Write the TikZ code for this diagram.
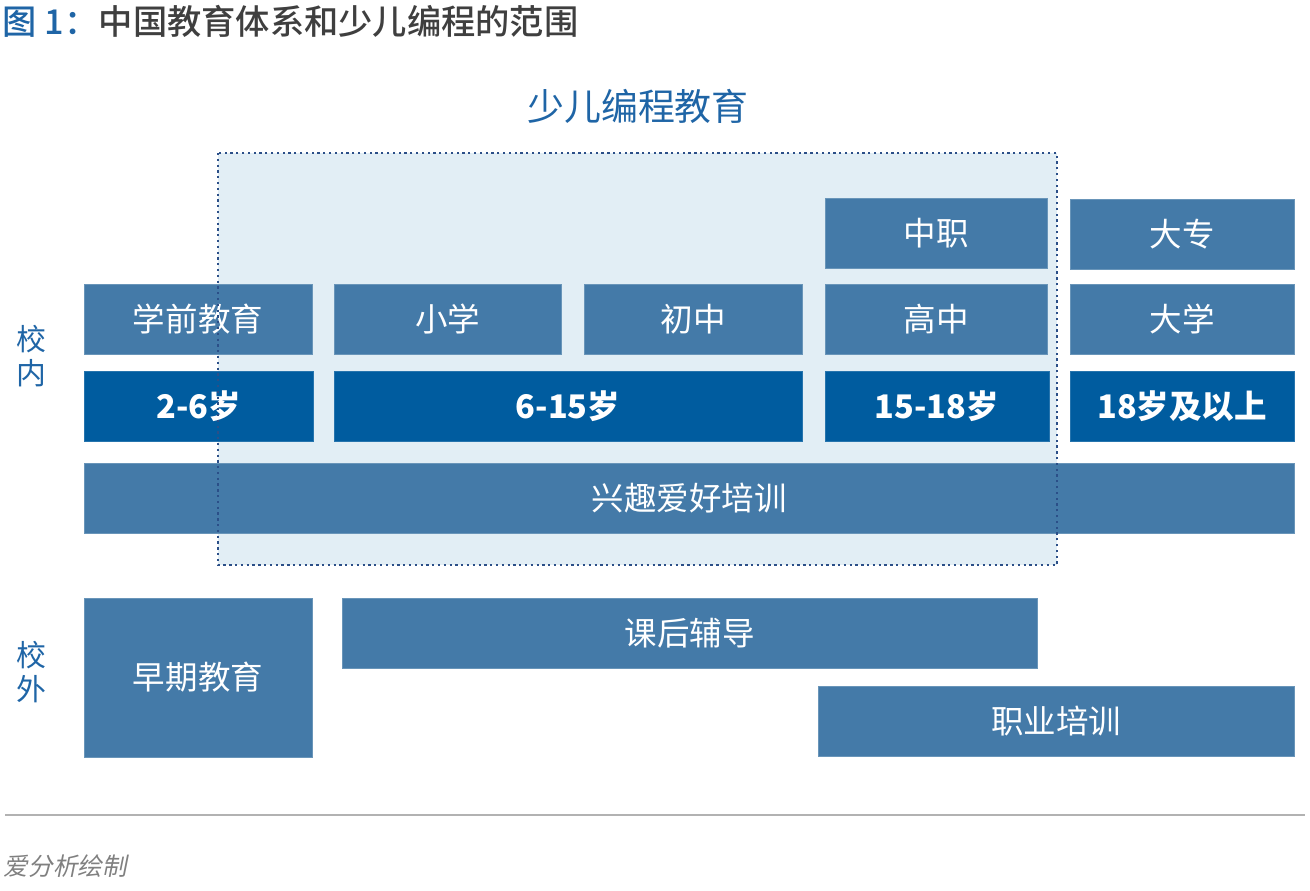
\documentclass[tikz,border=0pt]{standalone}
\usepackage{fontspec}
\setmainfont{Noto Sans CJK SC}
\newfontfamily\titlefont{Noto Sans CJK SC Medium}
\newfontfamily\notefont[FakeSlant=0.2]{Noto Sans CJK SC}
\usepackage{tikz}
\usetikzlibrary{calc, shapes, positioning}
\definecolor{boxblue}{HTML}{447AA8}
\definecolor{ageblue}{HTML}{005C9F}
\definecolor{zoneblue}{HTML}{E2EEF5}
\definecolor{dotblue}{HTML}{2B4F88}
\definecolor{textblue}{HTML}{1F65A6}
\definecolor{titlegray}{HTML}{3F3F3F}

\begin{document}
\begin{tikzpicture}[x=0.02cm,y=-0.02cm,auto,semithick,
        every node/.style={inner sep=0pt,outer sep=0pt}]
        \tikzstyle{stage}=[rectangle,fill=boxblue,draw=boxblue!80!white,thin,text=white,minimum height=1.4cm,font=\fontsize{18.5pt}{22pt}\selectfont]
        \tikzstyle{age}=[stage,fill=ageblue,draw=ageblue!85!white,font=\fontsize{18.5pt}{22pt}\selectfont\bfseries]
        \tikzstyle{side}=[text=textblue,align=center,font=\fontsize{17pt}{19.5pt}\selectfont]
        \useasboundingbox (0,0) rectangle (1310,890);
        % title
        \node[anchor=west,text=titlegray,font=\titlefont\fontsize{19.5pt}{22pt}\selectfont](title) at (3,21){{\color{textblue}图 1：}中国教育体系和少儿编程的范围};
        % coding zone
        \fill[zoneblue] (218,153) rectangle (1057,565);
        \node[text=textblue,font=\fontsize{21pt}{24pt}\selectfont](zone) at (638,106){少儿编程教育};
        % in school
        \node[stage,minimum width=4.44cm](zhongzhi) at (936,233){\raisebox{-1.5pt}{中职}};
        \node[stage,minimum width=4.48cm](dazhuan) at (1182,234){\raisebox{-1.5pt}{大专}};
        \node[stage,minimum width=4.56cm](xueqian) at (198,319){\raisebox{-1.5pt}{学前教育}};
        \node[stage,minimum width=4.54cm](xiaoxue) at (447.5,319){\raisebox{-1.5pt}{小学}};
        \node[stage,minimum width=4.36cm](chuzhong) at (693,319){\raisebox{-1.5pt}{初中}};
        \node[stage,minimum width=4.44cm](gaozhong) at (936,319){\raisebox{-1.5pt}{高中}};
        \node[stage,minimum width=4.48cm](daxue) at (1182,319){\raisebox{-1.5pt}{大学}};
        \node[age,minimum width=4.58cm](ageA) at (198.5,406){\raisebox{-1.5pt}{2-6岁}};
        \node[age,minimum width=9.36cm](ageB) at (568,406){\raisebox{-1.5pt}{6-15岁}};
        \node[age,minimum width=4.48cm](ageC) at (937,406){\raisebox{-1.5pt}{15-18岁}};
        \node[age,minimum width=4.48cm](ageD) at (1182,406){\raisebox{-1.5pt}{18岁及以上}};
        \node[stage,minimum width=24.2cm](xingqu) at (689,498){\raisebox{-1.5pt}{兴趣爱好培训}};
        % out of school
        \node[stage,minimum width=4.56cm,minimum height=3.18cm](zaoqi) at (198,677.5){\raisebox{-1.5pt}{早期教育}};
        \node[stage,minimum width=13.9cm](kehou) at (689.5,633){\raisebox{-1.5pt}{课后辅导}};
        \node[stage,minimum width=9.52cm](zhiye) at (1056,721.5){\raisebox{-1.5pt}{职业培训}};
        \node[side](xiaonei) at (31,356){校\\内};
        \node[side](xiaowai) at (31,672){校\\外};
        \draw[dotblue,line width=1.3pt,dotted] (218,153) rectangle (1057,565);
        % footer
        \draw[gray!60,line width=1pt] (5,815) -- (1305,815);
        \node[anchor=west,text=gray,font=\notefont\fontsize{14pt}{16pt}\selectfont](source) at (4,866){爱分析绘制};
     \end{tikzpicture}
\end{document}
